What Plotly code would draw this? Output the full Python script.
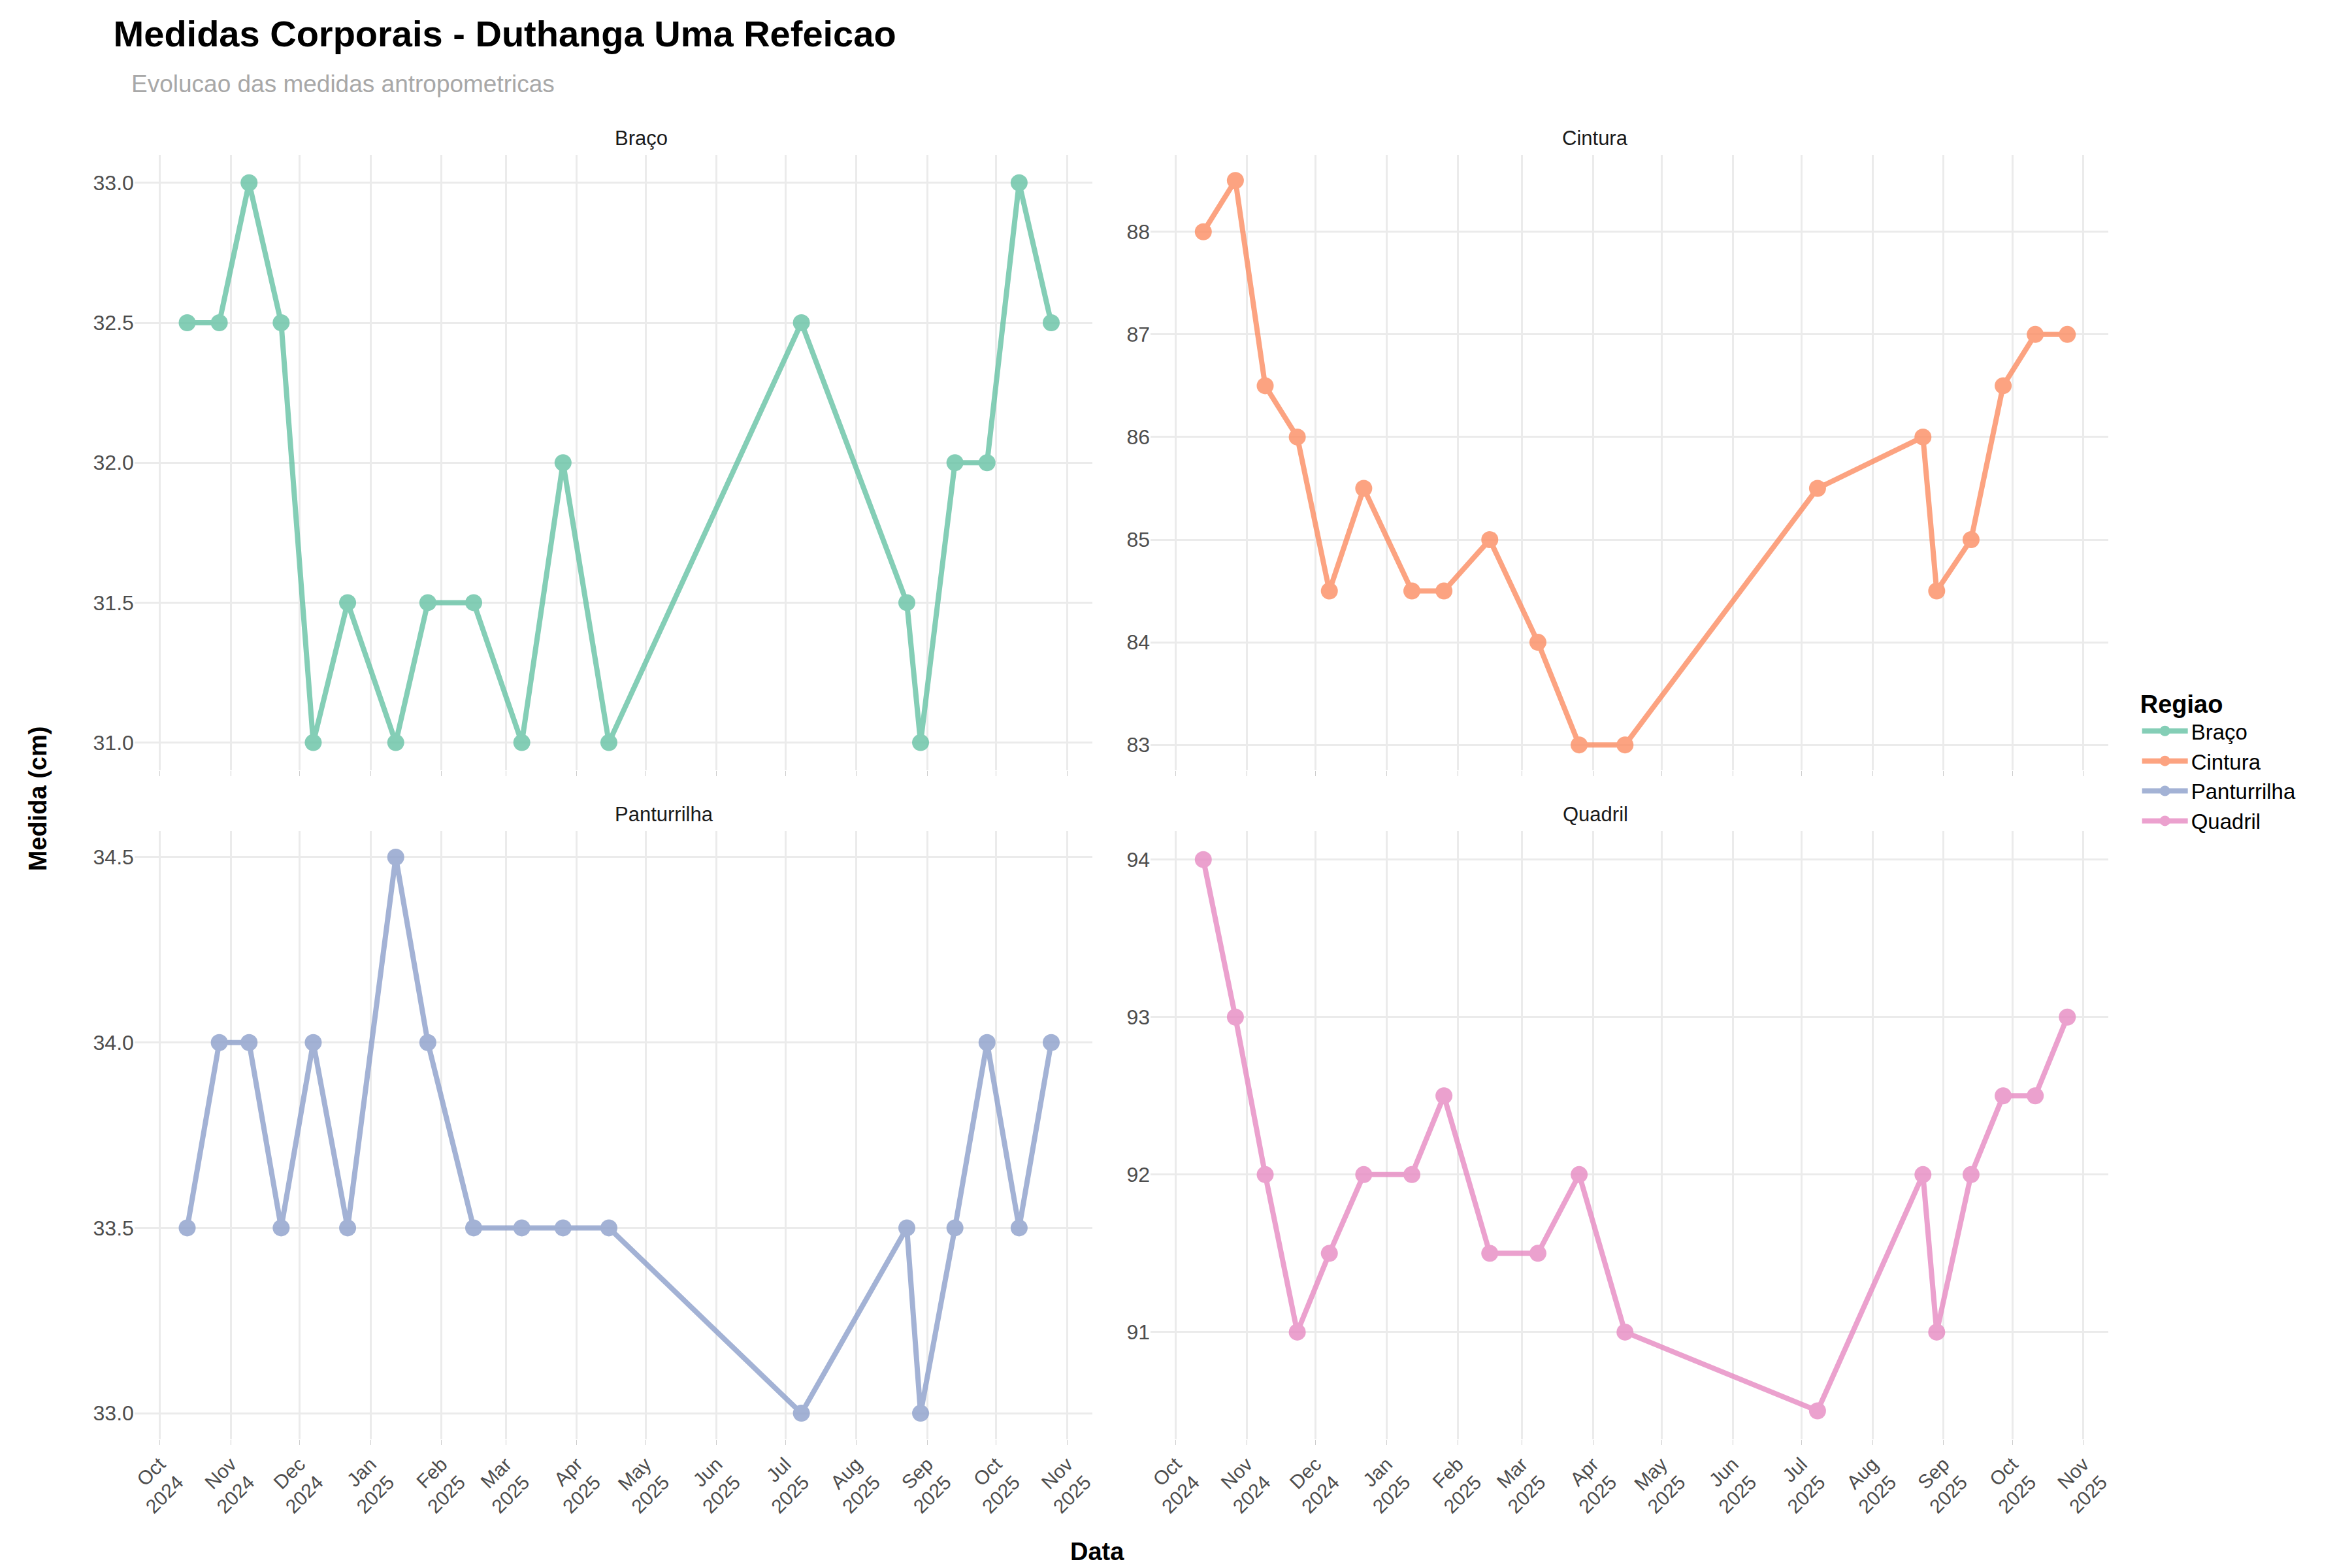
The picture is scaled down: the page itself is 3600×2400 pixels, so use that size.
import plotly.graph_objects as go
from plotly.subplots import make_subplots

dates = ['2024-10-13', '2024-10-27', '2024-11-09', '2024-11-23', '2024-12-07', '2024-12-22',
         '2025-01-12', '2025-01-26', '2025-02-15', '2025-03-08', '2025-03-26', '2025-04-15',
         '2025-07-08', '2025-08-23', '2025-08-29', '2025-09-13', '2025-09-27', '2025-10-11',
         '2025-10-25']

braco = [32.5, 32.5, 33, 32.5, 31, 31.5, 31, 31.5, 31.5, 31, 32, 31, 32.5, 31.5, 31, 32, 32, 33, 32.5]
cintura = [88, 88.5, 86.5, 86, 84.5, 85.5, 84.5, 84.5, 85, 84, 83, 83, 85.5, 86, 84.5, 85, 86.5, 87, 87]
panturrilha = [33.5, 34, 34, 33.5, 34, 33.5, 34.5, 34, 33.5, 33.5, 33.5, 33.5, 33, 33.5, 33, 33.5, 34, 33.5, 34]
quadril = [94, 93, 92, 91, 91.5, 92, 92, 92.5, 91.5, 91.5, 92, 91, 90.5, 92, 91, 92, 92.5, 92.5, 93]

regioes = ['Braço', 'Cintura', 'Panturrilha', 'Quadril']
series = [braco, cintura, panturrilha, quadril]
cores = ['#66C2A5', '#FC8D62', '#8DA0CB', '#E78AC3']
posicoes = [(1, 1), (1, 2), (2, 1), (2, 2)]

month_ticks = ['2024-10-01', '2024-11-01', '2024-12-01', '2025-01-01', '2025-02-01', '2025-03-01',
               '2025-04-01', '2025-05-01', '2025-06-01', '2025-07-01', '2025-08-01', '2025-09-01',
               '2025-10-01', '2025-11-01']
month_labels = ['Oct<br>2024', 'Nov<br>2024', 'Dec<br>2024', 'Jan<br>2025', 'Feb<br>2025', 'Mar<br>2025',
                'Apr<br>2025', 'May<br>2025', 'Jun<br>2025', 'Jul<br>2025', 'Aug<br>2025', 'Sep<br>2025',
                'Oct<br>2025', 'Nov<br>2025']

fig = make_subplots(rows=2, cols=2, horizontal_spacing=0.03, vertical_spacing=0.04)

for nome, vals, cor, (r, c) in zip(regioes, series, cores, posicoes):
    fig.add_trace(go.Scatter(
        x=dates, y=vals, mode='lines+markers', name=nome,
        line=dict(color=cor, width=8), marker=dict(color=cor, size=26),
        opacity=0.8, cliponaxis=False
    ), row=r, col=c)

fig.update_xaxes(domain=[0.048, 0.46], col=1)
fig.update_xaxes(domain=[0.485, 0.897], col=2)
fig.update_yaxes(domain=[0.512, 0.908], row=1)
fig.update_yaxes(domain=[0.082, 0.473], row=2)

fig.update_xaxes(range=['2024-09-20', '2025-11-12'], tickvals=month_ticks, ticktext=month_labels,
                 tickangle=-45, showgrid=True, gridcolor='#EBEBEB', gridwidth=3, zeroline=False,
                 showline=False, ticks='outside', ticklen=8, tickcolor='#CCCCCC',
                 tickfont=dict(size=30, color='#4D4D4D', family='Liberation Sans'))
fig.update_xaxes(showticklabels=False, row=1)
fig.update_yaxes(showgrid=True, gridcolor='#EBEBEB', gridwidth=3, zeroline=False,
                 tickfont=dict(size=32, color='#4D4D4D', family='Liberation Sans'))
fig.update_yaxes(tickvals=[31, 31.5, 32, 32.5, 33], ticktext=['31.0', '31.5', '32.0', '32.5', '33.0'],
                 range=[30.9, 33.1], row=1, col=1)
fig.update_yaxes(dtick=1, range=[82.75, 88.75], row=1, col=2)
fig.update_yaxes(tickvals=[33, 33.5, 34, 34.5], ticktext=['33.0', '33.5', '34.0', '34.5'],
                 range=[32.93, 34.57], row=2, col=1)
fig.update_yaxes(dtick=1, range=[90.32, 94.18], row=2, col=2)

for nome, (r, c) in zip(regioes, posicoes):
    xd = 0.254 if c == 1 else 0.691
    yd = 0.908 if r == 1 else 0.473
    fig.add_annotation(text=nome, x=xd, y=yd, xref='paper', yref='paper', yanchor='bottom',
                       showarrow=False, yshift=6, font=dict(size=31, color='#1A1A1A'))

fig.add_annotation(text='<b>Data</b>', x=0.462, y=0.0, xref='paper', yref='paper', yanchor='bottom',
                   showarrow=False, font=dict(size=38, color='black'))
fig.add_annotation(text='<b>Medida (cm)</b>', x=0.0, y=0.494, xref='paper', yref='paper', xanchor='left',
                   textangle=-90, showarrow=False, font=dict(size=38, color='black'))
fig.add_annotation(text='Evolucao das medidas antropometricas', x=0.046, y=0.944, xref='paper', yref='paper',
                   xanchor='left', yanchor='bottom', showarrow=False, font=dict(size=37, color='#A8A8A8'))

fig.update_layout(
    width=3600, height=2400,
    title=dict(text='<b>Medidas Corporais - Duthanga Uma Refeicao</b>', x=0.046, xanchor='left',
               y=0.99, yanchor='top', font=dict(size=56, color='black')),
    font=dict(family='Liberation Sans'),
    plot_bgcolor='white', paper_bgcolor='white',
    legend=dict(title=dict(text='<b>Regiao</b>', font=dict(size=38, color='black')),
                font=dict(size=33, color='black'),
                x=0.91, y=0.57, yanchor='top', xanchor='left', itemwidth=70, tracegroupgap=20),
    margin=dict(l=10, r=10, t=10, b=10)
)

fig.write_html('out.html')
